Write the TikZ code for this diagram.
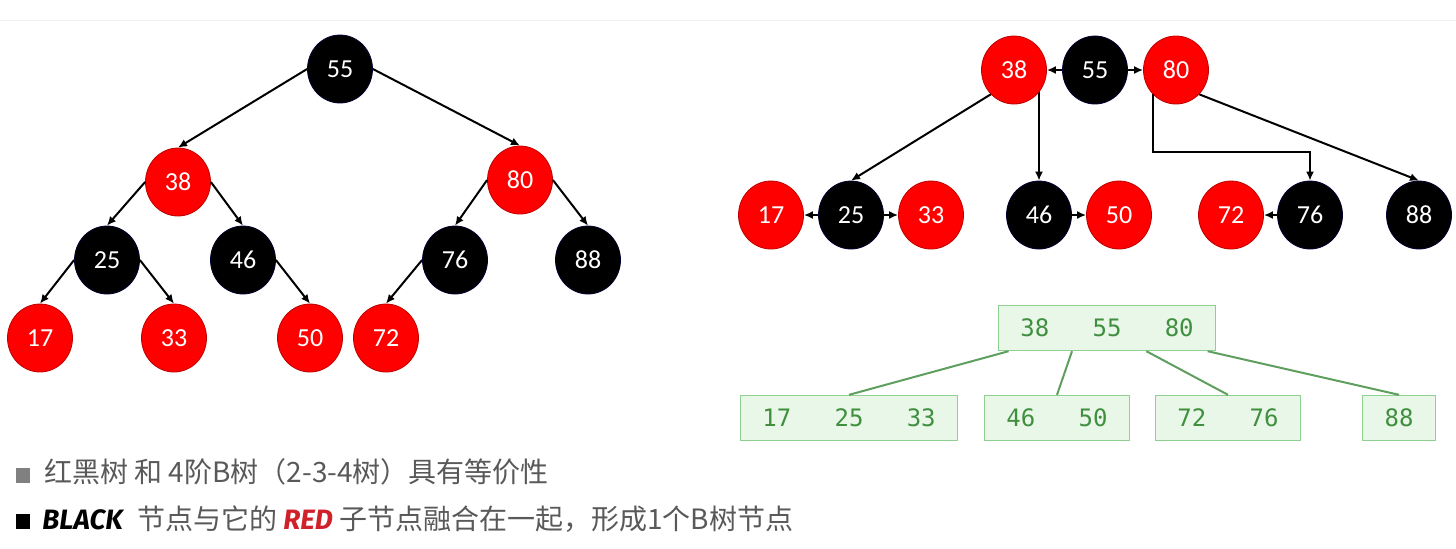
\documentclass[tikz,border=0pt]{standalone}
\usepackage{fontspec}
\setmainfont{Carlito}
\newfontfamily\cjk{Noto Sans CJK SC}
\newfontfamily\bnum{DejaVu Sans Mono}
\newfontfamily\kwfont{Fira Sans}
\usepackage{tikz}
\usetikzlibrary{calc}
\usetikzlibrary{arrows.meta,shapes.geometric,backgrounds,positioning}
\definecolor{rbred}{HTML}{FF0000}
\definecolor{rbdeep}{HTML}{D0202A}
\definecolor{btfill}{HTML}{E9F7E9}
\definecolor{btline}{HTML}{8FCF8F}
\definecolor{bttext}{HTML}{3F8F3F}
\definecolor{btedge}{HTML}{5E9E5E}
\definecolor{capgray}{HTML}{595959}

\begin{document}
\begin{tikzpicture}
    [
        x=0.5pt, y=-0.5pt,
        rbnode/.style={ellipse, inner sep=0pt, minimum width=32.5pt, minimum height=34pt,
            text=white, font=\fontsize{13}{15}\selectfont, thin},
        blk/.style={rbnode, fill=black, draw=blue!20!black},
        rd/.style={rbnode, fill=rbred, draw=red!75!black},
        arr/.style={-{Latex[length=4.5pt,width=4pt]}, line width=1pt},
        bnode/.style={draw=btline, fill=btfill, text=bttext, font=\bnum\fontsize{12}{14}\selectfont,
            minimum height=22.5pt, inner xsep=11pt, inner ysep=0pt, line width=0.7pt},
        blink/.style={btedge, line width=1pt},
        caption/.style={anchor=west, text=capgray, font=\cjk\fontsize{14}{16}\selectfont, inner sep=0pt}
    ]
%    \draw[style=help lines,step=50] (0,0) grid (1456,548);
    \draw[gray!10] (0,20) -- (1456,20);

    % red-black tree
    \foreach \k/\px/\py/\s in {55/340/69/blk, 38/178/182/rd, 80/520/180/rd,
        25/107/260/blk, 46/243/260/blk, 76/455/260/blk, 88/588/260/blk,
        17/40/338/rd, 33/174/338/rd, 50/310/338/rd, 72/386/338/rd}
    {
        \node[\s] (L\k) at (\px,\py) {\k};
    }
    \foreach \p/\c/\side in {55/38/west, 55/80/east, 38/25/west, 38/46/east, 80/76/west,
        80/88/east, 25/17/west, 25/33/east, 46/50/east, 76/72/west}
    {
        \draw[arr] (L\p.\side) -- (L\c.north);
    }

    % same tree, red children pulled up
    \foreach \k/\px/\py/\s in {38/1014/70/rd, 55/1095/70/blk, 80/1176/70/rd,
        17/771/215/rd, 25/851/215/blk, 33/931/215/rd, 46/1039/215/blk,
        50/1119/215/rd, 72/1231/215/rd, 76/1310/215/blk, 88/1419/215/blk}
    {
        \node[\s] (R\k) at (\px,\py) {\k};
    }
    \foreach \a/\b in {55/38, 55/80, 25/17, 25/33, 46/50, 76/72}
        \draw[arr] (R\a) -- (R\b);
    \draw[arr] (R38.south west) -- (R25.north);
    \begin{scope}[on background layer]
        \draw[arr] (R46.north |- R38.center) -- (R46.north);
    \end{scope}
    \draw[arr] (R80.south west) -- ++(0,58) -| (R76.north);
    \draw[arr] (R80.south east) -- (R88.north);

    % 2-3-4 tree
    \node[bnode] (bt) at (1107,328) {38\ \ \ 55\ \ \ 80};
    \node[bnode] (b1) at (849,418) {17\ \ \ 25\ \ \ 33};
    \node[bnode] (b2) at (1057,418) {46\ \ \ 50};
    \node[bnode] (b3) at (1228,418) {72\ \ \ 76};
    \node[bnode] (b4) at (1399,418) {88};
    \foreach \f/\k in {0.05/1, 0.34/2, 0.68/3, 0.96/4}
        \draw[blink] ($(bt.south west)!\f!(bt.south east)$) -- (b\k.north);

    \node[caption] (cap1) at (16,472)
        {{\color{gray}\rule{7pt}{7.5pt}}\hspace{7pt}红黑树 和 4阶B树（2-3-4树）具有等价性};
    \node[caption] (cap2) at (16,519)
        {{\color{black}\rule{7pt}{7.5pt}}\hspace{6pt}{\kwfont\bfseries\itshape\color{black}BLACK}\hspace{4pt} 节点与它的 {\kwfont\bfseries\itshape\color{rbdeep}RED} 子节点融合在一起，形成1个B树节点};

    \pgfresetboundingbox
    \useasboundingbox (0,0) rectangle (1456,548);
\end{tikzpicture}
\end{document}
